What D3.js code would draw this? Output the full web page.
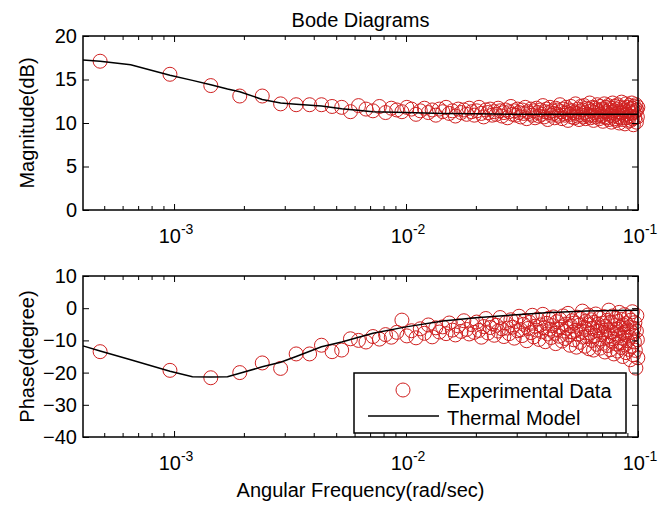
<!DOCTYPE html>
<html>
<head>
<meta charset="utf-8">
<script src="https://cdn.jsdelivr.net/npm/d3@7"></script>
<style>
body { margin: 0; background: #fff; }
svg { display: block; font-family: "Liberation Sans", Arial, Helvetica, sans-serif; }
</style>
</head>
<body>
<div class="bode"></div>
<script>
// measured points sit on harmonics of this frequency (rad/sec)
var fundamental = 4.8e-4;

// experimental magnitude (dB), one value per harmonic
var magData = [
    17.1, 15.6, 14.3, 13.1, 13.1, 12.2, 12.1, 12.1, 12.1, 11.9, 11.8, 11.3, 12.0,
    11.6, 11.4, 11.9, 11.2, 11.7, 11.5, 11.3, 11.8, 11.6, 11.0, 11.4, 11.7, 11.2, 11.5, 10.9, 11.6, 11.3,
    11.8, 11.1, 11.4, 10.8, 11.6, 11.2, 11.5, 11.0, 11.7, 11.3, 10.9, 11.4, 11.8, 11.1, 10.7, 11.5, 11.2, 11.6, 10.9, 11.3,
    11.0, 11.7, 11.4, 10.8, 11.2, 11.5, 10.6, 11.3, 11.9, 11.0, 11.4, 10.9, 11.6, 11.2, 10.7, 11.5, 11.1, 11.8, 10.5, 11.3,
    11.1, 11.6, 10.9, 11.4, 10.6, 11.7, 11.2, 10.8, 11.5, 11.0, 12.0, 10.7, 11.3, 11.6, 10.4, 11.2, 11.8, 10.9, 11.4, 11.1,
    10.6, 11.7, 11.0, 11.5, 10.8, 12.1, 11.3, 10.5, 11.6, 11.1, 10.9, 11.8, 11.2, 10.3, 11.5, 11.0, 11.9, 10.7, 11.4, 11.2,
    10.6, 12.2, 11.1, 10.8, 11.6, 10.4, 11.3, 11.9, 10.9, 11.5, 10.7, 12.0, 11.2, 10.5, 11.7, 11.0, 10.8, 11.6, 12.3, 10.6,
    11.4, 10.9, 11.8, 10.3, 11.2, 11.7, 10.7, 11.5, 12.1, 10.9, 11.3, 10.5, 11.9, 11.0, 10.8, 11.6, 10.2, 11.4, 12.2, 10.7,
    11.3, 11.8, 10.6, 11.1, 12.0, 10.4, 11.5, 10.9, 11.7, 10.1, 11.2, 12.3, 10.8, 11.4, 10.5, 11.9, 11.0, 10.3, 11.6, 12.1,
    10.7, 11.3, 10.0, 11.8, 11.1, 10.6, 12.4, 11.2, 10.4, 11.7, 10.9, 11.5, 9.9, 11.3, 12.2, 10.6, 11.0, 11.8, 10.2, 11.4,
    12.0, 10.8, 11.6, 10.3, 11.1, 12.3, 10.5, 11.7, 9.8, 11.2, 11.9, 10.6, 11.4, 12.1, 10.1, 11.5, 10.7, 11.8
];

// experimental phase (degree), one value per harmonic
var phaseData = [
    -13.5, -19.3, -21.6, -20.0, -17.0, -18.7, -14.2, -14.2, -11.5, -13.5, -13.0, -9.5, -10.0,
    -10.5, -8.8, -9.6, -8.2, -9.0, -7.5, -3.7, -8.6, -7.0, -9.2, -6.4, -7.8, -5.2, -8.9, -6.1, -7.4, -5.8,
    -7.9, -4.6, -6.8, -8.3, -5.5, -7.2, -3.9, -6.6, -8.0, -5.1, -7.5, -4.3, -6.9, -9.0, -5.7, -3.2, -7.7, -6.0, -4.8, -8.4,
    -5.3, -7.1, -2.9, -6.4, -8.8, -4.5, -6.2, -7.9, -3.6, -5.9, -9.3, -4.1, -7.0, -2.5, -6.7, -8.5, -5.0, -3.8, -10.1, -6.3,
    -4.4, -7.6, -2.2, -8.9, -5.6, -6.8, -3.4, -9.7, -5.2, -7.3, -1.9, -6.1, -10.4, -4.7, -8.0, -3.1, -6.5, -9.1, -5.4, -2.7,
    -7.8, -11.0, -4.2, -6.6, -8.7, -3.5, -5.8, -10.2, -2.4, -7.1, -9.4, -4.9, -6.2, -1.6, -8.3, -11.5, -5.5, -3.9, -7.4, -9.8,
    -4.6, -6.9, -12.1, -2.8, -8.1, -5.3, -10.6, -3.3, -7.2, -0.9, -9.0, -5.9, -11.8, -4.0, -6.6, -8.8, -2.1, -12.6, -5.1, -7.7,
    -3.6, -10.0, -6.3, -13.0, -4.4, -8.5, -1.8, -11.2, -7.0, -5.0, -9.6, -3.0, -12.4, -6.1, -8.2, -4.7, -10.9, -2.6, -7.5, -13.6,
    -5.6, -9.1, -3.8, -11.6, -6.8, -0.6, -8.6, -12.9, -4.3, -7.3, -10.3, -2.4, -9.5, -14.2, -5.4, -7.9, -3.2, -11.1, -6.5, -13.3,
    -4.1, -8.7, -1.3, -10.7, -6.0, -12.2, -3.5, -9.3, -15.0, -5.2, -7.6, -2.0, -11.4, -8.1, -13.8, -4.8, -6.7, -10.1, -2.9, -12.8,
    -5.9, -9.0, -16.0, -3.7, -7.4, -11.9, -1.1, -8.4, -14.5, -6.2, -10.5, -4.5, -13.1, -18.6, -7.1, -2.3, -9.8, -15.4
];

// thermal model curve
var modelFreq = [4.05e-4, 4.8e-4, 6.5e-4, 9.6e-4, 1.2e-3, 1.44e-3, 1.7e-3, 1.92e-3, 2.4e-3, 2.88e-3, 3.36e-3,
    4.32e-3, 5.28e-3, 7.2e-3, 1.0e-2, 1.44e-2, 2.0e-2, 3.0e-2, 4.0e-2, 6.0e-2, 8.0e-2, 1.0e-1];
var modelMag = [17.25, 17.1, 16.7, 15.5, 14.9, 14.4, 13.9, 13.6, 12.7, 12.3, 12.15,
    11.95, 11.65, 11.3, 11.2, 11.1, 11.05, 11.0, 11.0, 11.0, 11.0, 11.0];
var modelPhase = [-11.7, -13.3, -16.0, -19.6, -21.3, -21.4, -21.3, -20.2, -18.2, -16.8, -15.0,
    -12.0, -10.5, -7.8, -5.8, -4.0, -3.0, -2.0, -1.4, -0.9, -0.7, -0.6];

var freqDomain = [4.05e-4, 1e-1];
var magDomain = [0, 20];
var phaseDomain = [-40, 10];
var magTicks = [0, 5, 10, 15, 20];
var phaseTicks = [-40, -30, -20, -10, 0, 10];
var decadeTicks = [1e-3, 1e-2, 1e-1];
var decadeExp = ["-3", "-2", "-1"];

var legendNames = ["Experimental Data", "Thermal Model"];

var red = "#d02020";
var fontSize = 20;

var svg = d3.select(".bode")
    .append("svg")
    .attr("width", 668)
    .attr("height", 508);

var margin = { left: 83, right: 638 };

var x = d3.scaleLog()
    .domain(freqDomain)
    .range([margin.left, margin.right]);

var minorTicks = x.ticks().filter(function (d) {
    return Math.abs(Math.log10(d) - Math.round(Math.log10(d))) > 1e-6;
});

var points = magData.map(function (m, i) {
    return { w: fundamental * (i + 1), mag: m, phase: phaseData[i] };
});
var model = modelFreq.map(function (w, i) {
    return { w: w, mag: modelMag[i], phase: modelPhase[i] };
});

function drawPanel(top, bottom, domain, ticks, key, ylabel) {
    var y = d3.scaleLinear().domain(domain).range([bottom, top]);
    var g = svg.append("g");

    // data circles
    g.selectAll("circle.pt")
        .data(points)
        .enter()
        .append("circle")
        .attr("class", "pt")
        .attr("cx", function (d) { return x(d.w); })
        .attr("cy", function (d) { return y(d[key]); })
        .attr("r", 7)
        .attr("fill", "none")
        .attr("stroke", red)
        .attr("stroke-width", 1);

    // model line
    var line = d3.line()
        .x(function (d) { return x(d.w); })
        .y(function (d) { return y(d[key]); });

    g.append("path")
        .datum(model)
        .attr("d", line)
        .attr("fill", "none")
        .attr("stroke", "#000")
        .attr("stroke-width", 1.5);

    // ticks on all four sides, pointing inward
    var axes = [
        g.append("g").attr("transform", "translate(0," + bottom + ")").call(d3.axisBottom(x).tickValues(decadeTicks).tickSize(-6).tickFormat("")),
        g.append("g").attr("transform", "translate(0," + bottom + ")").call(d3.axisBottom(x).tickValues(minorTicks).tickSize(-4).tickFormat("")),
        g.append("g").attr("transform", "translate(0," + top + ")").call(d3.axisTop(x).tickValues(decadeTicks).tickSize(-6).tickFormat("")),
        g.append("g").attr("transform", "translate(0," + top + ")").call(d3.axisTop(x).tickValues(minorTicks).tickSize(-4).tickFormat("")),
        g.append("g").attr("transform", "translate(" + margin.right + ",0)").call(d3.axisRight(y).tickValues(ticks).tickSize(-6).tickFormat("")),
        g.append("g").attr("transform", "translate(" + margin.left + ",0)").call(d3.axisLeft(y).tickValues(ticks).tickSize(-6).tickPadding(6))
    ];
    axes.forEach(function (a) {
        a.select(".domain").remove();
        a.selectAll("line").attr("stroke", "#000").attr("stroke-width", 1);
        a.selectAll("text")
            .attr("font-family", "Liberation Sans, Arial, sans-serif")
            .attr("font-size", fontSize)
            .attr("fill", "#000");
    });

    // box
    g.append("rect")
        .attr("x", margin.left)
        .attr("y", top)
        .attr("width", margin.right - margin.left)
        .attr("height", bottom - top)
        .attr("fill", "none")
        .attr("stroke", "#000")
        .attr("stroke-width", 1.5);

    // decade labels 10^n
    var lab = g.selectAll("text.dec")
        .data(decadeTicks)
        .enter()
        .append("text")
        .attr("class", "dec")
        .attr("x", function (d) { return x(d) + 2; })
        .attr("y", bottom + 33)
        .attr("text-anchor", "middle")
        .attr("font-size", fontSize);
    lab.append("tspan").text("10");
    lab.append("tspan")
        .attr("dy", -9)
        .attr("font-size", 14)
        .text(function (d, i) { return decadeExp[i]; });

    // y axis label
    g.append("text")
        .attr("transform", "translate(34," + ((top + bottom) / 2) + ") rotate(-90)")
        .attr("text-anchor", "middle")
        .attr("font-size", fontSize)
        .text(ylabel);

    return y;
}

drawPanel(36, 210, magDomain, magTicks, "mag", "Magnitude(dB)");
drawPanel(276, 437, phaseDomain, phaseTicks, "phase", "Phase(degree)");

svg.append("text")
    .attr("x", (margin.left + margin.right) / 2)
    .attr("y", 27)
    .attr("text-anchor", "middle")
    .attr("font-size", fontSize)
    .text("Bode Diagrams");

svg.append("text")
    .attr("x", (margin.left + margin.right) / 2)
    .attr("y", 497)
    .attr("text-anchor", "middle")
    .attr("font-size", fontSize)
    .text("Angular Frequency(rad/sec)");

// legend
var legend = svg.append("g").attr("transform", "translate(354,373)");
legend.append("rect")
    .attr("width", 272)
    .attr("height", 60)
    .attr("fill", "#fff")
    .attr("stroke", "#000")
    .attr("stroke-width", 1.5);
legend.append("circle")
    .attr("cx", 49)
    .attr("cy", 17)
    .attr("r", 7)
    .attr("fill", "none")
    .attr("stroke", red);
legend.append("line")
    .attr("x1", 14)
    .attr("x2", 85)
    .attr("y1", 43)
    .attr("y2", 43)
    .attr("stroke", "#000")
    .attr("stroke-width", 1.5);
legend.selectAll("text.leg")
    .data(legendNames)
    .enter()
    .append("text")
    .attr("class", "leg")
    .attr("x", 93)
    .attr("y", function (d, i) { return 25 + i * 27; })
    .attr("font-size", fontSize)
    .text(function (d) { return d; });
</script>
</body>
</html>
